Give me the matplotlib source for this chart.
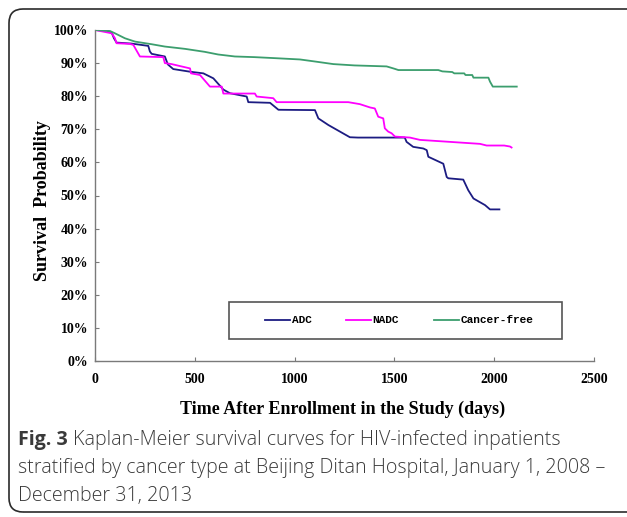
import matplotlib
matplotlib.use("Agg")
import matplotlib.pyplot as plt
from matplotlib.patches import FancyBboxPatch, Rectangle
from matplotlib.transforms import IdentityTransform
from matplotlib.ticker import FuncFormatter

# ---- data (days, survival %) ----
adc_days = [0, 60, 85, 95, 108, 183, 267, 275, 284, 350, 365, 392, 476, 543, 593, 643, 676,
            743, 760, 768, 877, 919, 1102, 1119, 1169, 1277, 1317, 1552, 1561, 1594, 1645,
            1662, 1670, 1745, 1762, 1770, 1845, 1870, 1896, 1954, 1979, 2026]
adc_surv = [100, 99.8, 99, 97.5, 96.2, 95.9, 95.2, 93.5, 92.8, 92.0, 89.6, 88.2, 87.4, 86.9,
            85.4, 82.0, 80.9, 80.1, 79.9, 78.2, 78.0, 75.9, 75.8, 73.3, 71.3, 67.6, 67.5,
            67.5, 66.2, 64.7, 64.2, 63.7, 61.7, 59.6, 55.6, 55.2, 54.8, 51.6, 49.1, 47.1,
            45.8, 45.8]

nadc_days = [0, 84, 100, 108, 175, 192, 225, 342, 350, 384, 426, 476, 481, 526, 576, 635, 643,
             801, 810, 893, 910, 1269, 1327, 1378, 1402, 1419, 1444, 1452, 1469, 1486, 1503,
             1578, 1628, 1929, 1962, 2050, 2079, 2087]
nadc_surv = [100, 99, 97.5, 96, 95.8, 95.5, 92.0, 91.8, 90.0, 89.7, 89.1, 88.4, 86.9, 86.4,
             82.9, 82.9, 80.8, 80.8, 79.9, 79.4, 78.2, 78.2, 77.6, 76.6, 76.3, 73.8, 73.3,
             70.3, 69.3, 68.8, 67.8, 67.5, 66.8, 65.6, 65.1, 65.1, 64.8, 64.5]

free_days = [0, 75, 100, 150, 200, 284, 350, 451, 550, 617, 701, 800, 900, 1027, 1100, 1194,
             1300, 1461, 1500, 1520, 1720, 1740, 1790, 1800, 1850, 1856, 1890, 1896, 1971,
             1979, 1993, 2113]
free_surv = [100, 99.7, 99, 97.5, 96.5, 95.7, 95.0, 94.3, 93.4, 92.6, 92.0, 91.8, 91.5, 91.1,
             90.5, 89.7, 89.3, 89.0, 88.3, 87.9, 87.9, 87.5, 87.3, 86.9, 86.9, 86.4, 86.4,
             85.6, 85.6, 84.4, 82.9, 82.9]

series_names = ["ADC", "NADC", "Cancer-free"]
series_colors = ["#1c1c82", "#ff00ff", "#3c9e6e"]

x_ticks = [0, 500, 1000, 1500, 2000, 2500]
y_ticks = [0, 10, 20, 30, 40, 50, 60, 70, 80, 90, 100]

W, H = 627, 517
fig = plt.figure(figsize=(W / 100, H / 100), dpi=100)
fig.patch.set_facecolor("white")

# outer rounded frame (pixel coords)
frame = FancyBboxPatch((9, H - 512), 640, 503,
                       boxstyle="round,pad=0,rounding_size=14",
                       transform=IdentityTransform(), facecolor="none",
                       edgecolor="#2b2b2b", linewidth=1.2)
fig.add_artist(frame)

left, right, top, bottom = 95, 594, 30, 361
ax = fig.add_axes([left / W, 1 - bottom / H, (right - left) / W, (bottom - top) / H])

data = [(adc_days, adc_surv), (nadc_days, nadc_surv), (free_days, free_surv)]
handles = []
for (d, s), name, c in zip(data, series_names, series_colors):
    h, = ax.plot(d, [v / 100 for v in s], color=c, lw=1.3, label=name,
                 solid_joinstyle="round")
    handles.append(h)

ax.set_xlim(0, 2500)
ax.set_ylim(0, 1.0)
ax.set_xticks(x_ticks)
ax.set_yticks([v / 100 for v in y_ticks])
ax.yaxis.set_major_formatter(FuncFormatter(lambda v, p: f"{round(v * 100)}%"))

for sp in ["top", "right"]:
    ax.spines[sp].set_visible(False)
for sp in ["left", "bottom"]:
    ax.spines[sp].set_color("#7a7a7a")
    ax.spines[sp].set_linewidth(1.0)

ax.tick_params(axis="both", direction="in", length=3, color="#7a7a7a", width=0.8)
ax.tick_params(axis="y", pad=5)
ax.tick_params(axis="x", pad=8.5)
for lbl in ax.get_xticklabels() + ax.get_yticklabels():
    lbl.set_fontfamily("Liberation Serif")
    lbl.set_fontweight("bold")
    lbl.set_fontsize(10)

ax.set_xlabel("Time After Enrollment in the Study (days)", fontfamily="Liberation Serif",
              fontweight="bold", fontsize=13)
ax.xaxis.set_label_coords(0.497, -0.121)
ax.set_ylabel("Survival  Probability", fontfamily="Liberation Serif",
              fontweight="bold", fontsize=13)
ax.yaxis.set_label_coords(-0.088, 0.486)

# legend frame box + legend entries
ax.add_patch(Rectangle((0.2685, 0.0665), 0.6675, 0.1115, transform=ax.transAxes,
                       facecolor="white", edgecolor="#555555", lw=1.2, zorder=4))
leg = ax.legend(handles=handles, loc="center left", bbox_to_anchor=(0.3407, 0.1224),
                ncol=3, frameon=False, borderpad=0, borderaxespad=0,
                handlelength=2.25, handletextpad=0.15, columnspacing=3.1,
                prop=dict(family="Liberation Mono", weight="bold", size=8))
leg.set_zorder(5)

# caption
fig.canvas.draw()
r = fig.canvas.get_renderer()
cap_kw = dict(family="Open Sans", size=14.1, color="#3a3a3a")
x0 = 18 / W
t1 = fig.text(x0, 1 - 440 / H, "Fig. 3", fontweight="bold", va="center", **cap_kw)
bb = t1.get_window_extent(r)
fig.text((bb.x1 + 5) / W, 1 - 440 / H,
         "Kaplan-Meier survival curves for HIV-infected inpatients",
         va="center", fontweight="light", **cap_kw)
fig.text(x0, 1 - 468 / H,
         "stratified by cancer type at Beijing Ditan Hospital, January 1, 2008 \u2013",
         va="center", fontweight="light", **cap_kw)
fig.text(x0, 1 - 496 / H, "December 31, 2013", va="center", fontweight="light", **cap_kw)

fig.savefig("out.png", dpi=100, facecolor="white")
